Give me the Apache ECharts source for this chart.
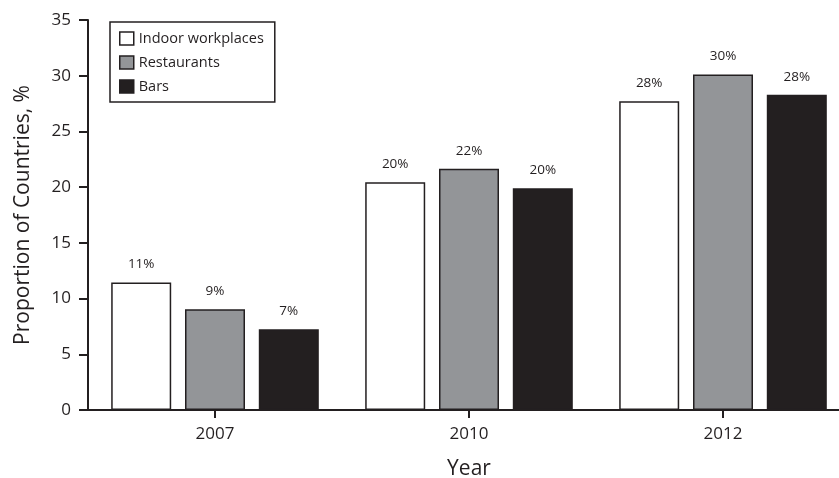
<!DOCTYPE html>
<html>
<head>
<meta charset="utf-8">
<script src="https://cdn.jsdelivr.net/npm/echarts@6/dist/echarts.min.js"></script>
<style>
html,body{margin:0;padding:0;background:#fff;}
#c{width:839px;height:478px;}
</style>
</head>
<body>
<div id="c"></div>
<script>
var years = ['2007', '2010', '2012'];
var indoor = [11.45, 20.45, 27.7];
var restaurants = [9.05, 21.65, 30.1];
var bars = [7.25, 19.9, 28.3];
var indoorLabels = ['11%', '20%', '28%'];
var restaurantLabels = ['9%', '22%', '30%'];
var barLabels = ['7%', '20%', '28%'];
var yTicks = [0, 5, 10, 15, 20, 25, 30, 35];

var FONT = '"Open Sans", "Noto Sans", sans-serif';
var INK = '#231f20';

function mk(name, vals, labels, color) {
  return {
    name: name,
    type: 'bar',
    barWidth: 60,
    barGap: '23%',
    data: vals,
    itemStyle: { color: color, borderColor: INK, borderWidth: 1.5 },
    label: {
      show: true, position: 'top', distance: 11,
      color: INK, fontFamily: FONT, fontSize: 13.5,
      formatter: function (p) { return labels[p.dataIndex]; }
    },
    emphasis: { disabled: true }
  };
}

var chart = echarts.init(document.getElementById('c'), null, { renderer: 'canvas' });
chart.setOption({
  animation: false,
  backgroundColor: '#fff',
  textStyle: { fontFamily: FONT, color: INK },
  grid: { left: 88, top: 20, bottom: 68, width: 762, containLabel: false, outerBoundsMode: 'none' },
  legend: {
    orient: 'vertical',
    left: 110, top: 22,
    padding: [9, 11, 8, 9],
    itemWidth: 14, itemHeight: 13, itemGap: 9,
    borderColor: INK, borderWidth: 1.5,
    backgroundColor: '#fff',
    textStyle: { fontFamily: FONT, fontSize: 14.5, color: INK },
    data: [
      { name: 'Indoor workplaces', icon: 'rect', itemStyle: { color: '#fff', borderColor: INK, borderWidth: 1.5 } },
      { name: 'Restaurants', icon: 'rect', itemStyle: { color: '#939598', borderColor: INK, borderWidth: 1.5 } },
      { name: 'Bars', icon: 'rect', itemStyle: { color: INK, borderColor: INK, borderWidth: 1.5 } }
    ]
  },
  xAxis: {
    type: 'category',
    data: years,
    name: 'Year',
    nameLocation: 'middle',
    nameGap: 49,
    nameTextStyle: { fontFamily: FONT, fontSize: 21, color: INK },
    axisLine: { lineStyle: { color: INK, width: 2 } },
    axisTick: { show: true, alignWithLabel: true, length: 8, lineStyle: { color: INK, width: 2 } },
    axisLabel: { color: INK, fontFamily: FONT, fontSize: 17, margin: 16 }
  },
  yAxis: {
    type: 'value',
    min: 0, max: 35, interval: 5,
    name: 'Proportion of Countries, %',
    nameLocation: 'middle',
    nameGap: 54,
    nameTextStyle: { fontFamily: FONT, fontSize: 21, color: INK },
    splitLine: { show: false },
    axisLine: { show: true, lineStyle: { color: INK, width: 2 } },
    axisTick: { show: true, length: 9, lineStyle: { color: INK, width: 2 } },
    axisLabel: {
      color: INK, fontFamily: FONT, fontSize: 17, margin: 17,
      formatter: function (v) { return yTicks.indexOf(v) >= 0 ? String(v) : ''; }
    }
  },
  series: [
    mk('Indoor workplaces', indoor, indoorLabels, '#ffffff'),
    mk('Restaurants', restaurants, restaurantLabels, '#939598'),
    mk('Bars', bars, barLabels, INK)
  ]
});
</script>
</body>
</html>
